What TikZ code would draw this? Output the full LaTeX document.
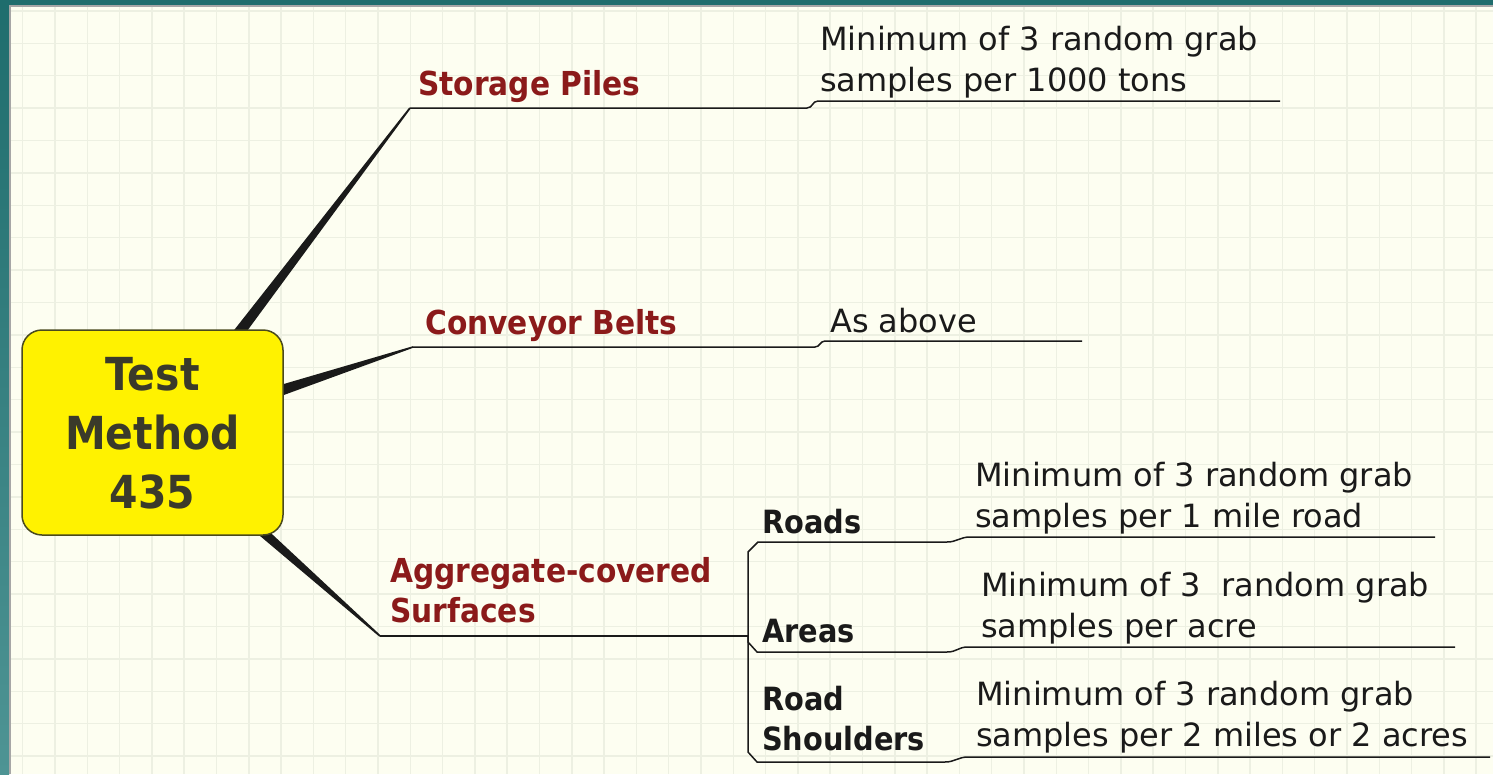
\documentclass[tikz,border=0pt]{standalone}
\usepackage{fontspec}
\setmainfont{DejaVu Sans}
\newfontfamily\condfont[FakeStretch=0.9]{DejaVu Sans}
\usetikzlibrary{calc}

\definecolor{tealdark}{HTML}{1F6D6D}
\definecolor{teallight}{HTML}{4E9494}
\definecolor{paper}{HTML}{FDFEF1}
\definecolor{gridc}{HTML}{EDF0E2}
\definecolor{ink}{HTML}{1A1A1A}
\definecolor{catred}{RGB}{139,26,26}
\definecolor{boxink}{HTML}{3A3A2A}
\definecolor{boxedge}{HTML}{4A4A1E}

% rows of text whose first baseline is the node's base
\newcommand{\textrows}[2][l]{\begin{tabular}[t]{@{}#1@{}}#2\end{tabular}}

\begin{document}
\begin{tikzpicture}[x=1pt,y=-1pt,
  txt/.style={inner sep=0pt, anchor=base west},
  catlabel/.style={txt, text=catred, font=\condfont\bfseries\fontsize{33}{40}\selectfont},
  sublabel/.style={txt, text=ink, font=\condfont\bfseries\fontsize{32}{40}\selectfont},
  detail/.style={txt, text=ink, font=\fontsize{32}{41}\selectfont},
  branch/.style={draw=ink, line width=1.5pt, line join=round},
  gridline/.style={draw=gridc, line width=1.5pt},
]
\useasboundingbox (0,0) rectangle (1493,774);

% frame and squared paper
\fill[tealdark] (0,0) rectangle (1493,774);
\shade[top color=tealdark, bottom color=teallight] (0,0) rectangle (9,774);
\fill[paper] (9,5) rectangle (1493,774);
\foreach \i in {0,...,45} \draw[gridline] ({22.7+32.3*\i},5) -- ({22.7+32.3*\i},774);
\foreach \j in {0,...,23} \draw[gridline] (9,{10.9+32.4*\j}) -- (1493,{10.9+32.4*\j});
\draw[gray!70, line width=1.5pt] (9.75,774) -- (9.75,5.75) -- (1493,5.75);

% branch points
\coordinate (spS) at (238,334);
\coordinate (sp) at (410,108);
\coordinate (cbS) at (276,392);
\coordinate (cb) at (413,347);
\coordinate (agS) at (256,526);
\coordinate (ag) at (380,636);
\coordinate (fork) at (748,636);
\coordinate (spEnd) at (1280,101);
\coordinate (cbEnd) at (1082,341);
\coordinate (rdEnd) at (1435,537);
\coordinate (arEnd) at (1455,647);
\coordinate (shEnd) at (1490,757);

% tapered trunks from the centre box
\fill[ink] ($(spS)!5.5pt!90:(sp)$) -- ($(sp)!0.9pt!-90:(spS)$) -- ($(sp)!0.9pt!90:(spS)$) -- ($(spS)!5.5pt!-90:(sp)$) -- cycle;
\fill[ink] ($(cbS)!5.5pt!90:(cb)$) -- ($(cb)!0.8pt!-90:(cbS)$) -- ($(cb)!0.8pt!90:(cbS)$) -- ($(cbS)!5.5pt!-90:(cb)$) -- cycle;
\fill[ink] ($(agS)!5pt!90:(ag)$) -- ($(ag)!0.9pt!-90:(agS)$) -- ($(ag)!0.9pt!90:(agS)$) -- ($(agS)!5pt!-90:(ag)$) -- cycle;

% centre box
\node[draw=boxedge, fill=yellow, line width=1.5pt, rounded corners=20pt,
      minimum width=261pt, minimum height=205pt, inner sep=0pt] (root) at (152.5,432.5) {};
\node[inner sep=0pt, anchor=base, text=boxink,
      font=\condfont\bfseries\fontsize{45.5}{59}\selectfont] (rootText) at (152.5,390)
      {\textrows[c]{Test\\Method\\435}};

% underlines of the first level
\draw[branch] (sp) -- (807,108) .. controls (813,108) and (812,101) .. (818,101) -- (spEnd);
\draw[branch] (cb) -- (815,347) .. controls (820,347) and (820,341) .. (825,341) -- (cbEnd);
\draw[branch] (ag) -- (fork);

% second level bracket
\draw[branch] (fork) -- (748,552) -- (758,542) -- (947,542)
  .. controls (957,542) and (960,537) .. (970,537) -- (rdEnd);
\draw[branch] (fork) -- (748,642) -- (757,652) -- (947,652)
  .. controls (957,652) and (958,647) .. (968,647) -- (arEnd);
\draw[branch] (fork) -- (748,752) -- (757,762) -- (945,762)
  .. controls (955,762) and (958,757) .. (968,757) -- (shEnd);

% labels
\node[catlabel] (storage) at (418,95) {Storage Piles};
\node[catlabel] (conveyor) at (425,334) {Conveyor Belts};
\node[catlabel] (aggregate) at (390,582) {\textrows{Aggregate-covered\\Surfaces}};
\node[sublabel] (roads) at (762,533) {Roads};
\node[sublabel] (areas) at (762,642) {Areas};
\node[sublabel] (shoulders) at (762,710) {\textrows{Road\\Shoulders}};

% notes
\node[detail] (spNote) at (820,50) {\textrows{Minimum of 3 random grab\\samples per 1000 tons}};
\node[detail] (cbNote) at (830,332) {As above};
\node[detail] (rdNote) at (975,486) {\textrows{Minimum of 3 random grab\\samples per 1 mile road}};
\node[detail] (arNote) at (981,596) {\textrows{Minimum of 3\ \ random grab\\samples per acre}};
\node[detail] (shNote) at (976,705) {\textrows{Minimum of 3 random grab\\samples per 2 miles or 2 acres}};
\end{tikzpicture}
\end{document}
